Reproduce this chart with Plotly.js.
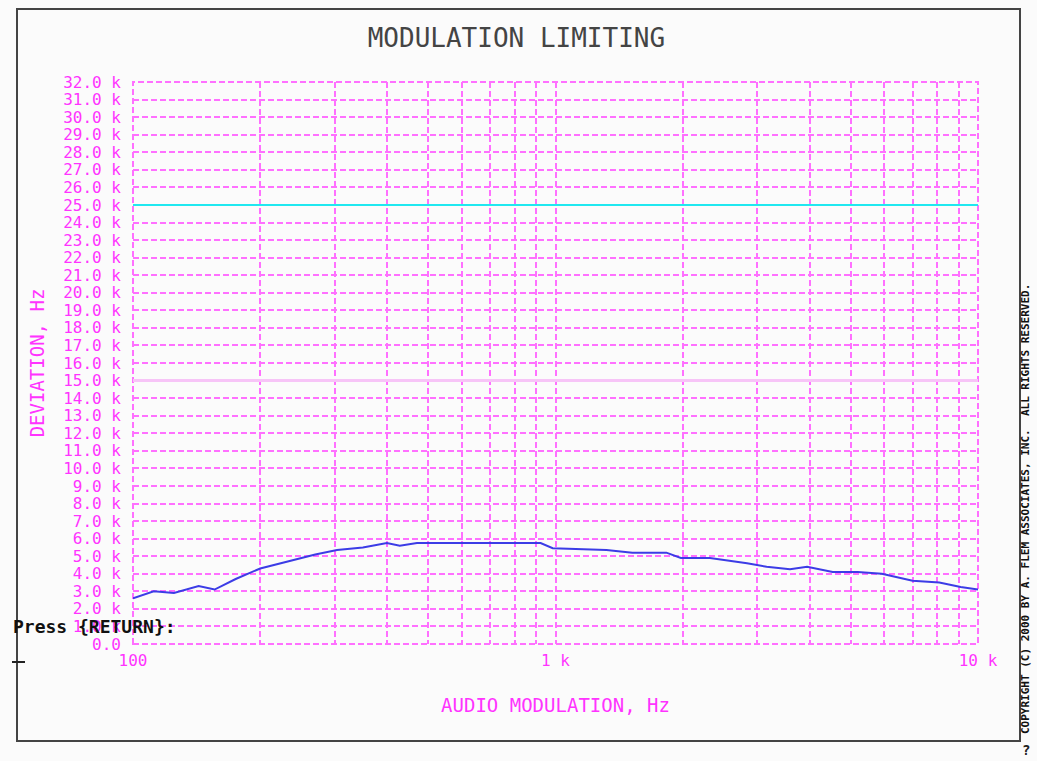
<!DOCTYPE html>
<html>
<head>
<meta charset="utf-8">
<script src="https://cdn.plot.ly/plotly-3.0.1.min.js"></script>
<style>
html,body{margin:0;padding:0;background:#fbfbfb;}
#chart{width:1037px;height:761px;}
</style>
</head>
<body>
<div id="chart"></div>
<script>
// Measured deviation curve (Hz) vs audio modulation frequency (Hz)
const freqHz = [100, 112, 125, 143, 156, 175, 200, 239, 270, 304, 350, 399, 428, 470, 505, 600, 700, 800, 922, 985, 1150, 1320, 1520, 1830, 1980, 2200, 2320, 2840, 3160, 3590, 3940, 4530, 5190, 5920, 7000, 8100, 9100, 10000];
const deviationHz = [2600, 3000, 2900, 3300, 3100, 3700, 4300, 4800, 5100, 5350, 5500, 5750, 5600, 5750, 5750, 5750, 5750, 5750, 5750, 5450, 5400, 5350, 5200, 5200, 4900, 4900, 4900, 4600, 4400, 4250, 4400, 4100, 4100, 4000, 3600, 3500, 3250, 3100];
// Reference lines
const limitFreq = [100, 10000];
const limitHz = [25000, 25000];
const midHz = [15000, 15000];
// X tick grid (log) and labels
const xTickVals = [100,200,300,400,500,600,700,800,900,1000,2000,3000,4000,5000,6000,7000,8000,9000,10000];
const xTickText = ['100','','','','','','','','','1 k','','','','','','','','','10 k'];
// Y ticks
const yTickVals = [];
const yTickText = [];
for (let k = 0; k <= 32; k++) { yTickVals.push(k*1000); yTickText.push(k === 0 ? '0.0' : k.toFixed(1) + ' k'); }

const MAG = '#ff33ff';
const GRID = '#ff70ff';
const FONT = '"DejaVu Sans Mono", "Liberation Mono", monospace';

const traces = [
  {x: limitFreq, y: midHz, mode: 'lines', line: {color: '#f7c4f7', width: 3}, hoverinfo: 'skip', showlegend: false},
  {x: limitFreq, y: limitHz, mode: 'lines', line: {color: '#20e8f0', width: 2}, hoverinfo: 'skip', showlegend: false},
  {x: freqHz, y: deviationHz, mode: 'lines', line: {color: '#3c3ce6', width: 2}, showlegend: false}
];

// pixel helpers for paper coords (plot area 133..978 x, 82..644 y)
const px = x => (x - 133) / 845;
const py = y => (644 - y) / 562;

const layout = {
  width: 1037, height: 761,
  margin: {l: 133, r: 59, t: 82, b: 117},
  paper_bgcolor: '#fbfbfb',
  plot_bgcolor: '#fbfbfb',
  font: {family: FONT, color: MAG},
  title: {text: 'MODULATION LIMITING', font: {family: FONT, size: 26, color: '#444'}, x: 0.498, xref: 'container', y: 1 - 38/761, yref: 'container', yanchor: 'middle'},
  xaxis: {
    type: 'log', range: [2, 4], tickvals: xTickVals, ticktext: xTickText,
    showgrid: true, gridcolor: GRID, griddash: '6px,3px', gridwidth: 2,
    zeroline: false, showline: false, ticks: '', ticklabelstandoff: 5,
    tickfont: {family: FONT, size: 16, color: MAG},
    title: {text: 'AUDIO MODULATION, Hz', font: {family: FONT, size: 19, color: MAG}, standoff: 29}
  },
  yaxis: {
    range: [0, 32000], tickvals: yTickVals, ticktext: yTickText,
    showgrid: true, gridcolor: GRID, griddash: '6px,3px', gridwidth: 2,
    zeroline: false, showline: false, ticks: '', ticklabelstandoff: 11,
    tickfont: {family: FONT, size: 16, color: MAG},
    title: {text: 'DEVIATION, Hz', font: {family: FONT, size: 19, color: MAG}, standoff: 13}
  },
  shapes: [
    {type: 'rect', xref: 'paper', yref: 'paper', x0: 0, x1: 1, y0: 0, y1: 1, line: {color: GRID, width: 2, dash: '6px,3px'}, fillcolor: 'rgba(0,0,0,0)', layer: 'below'},
    {type: 'rect', xref: 'paper', yref: 'paper', x0: px(17), x1: px(1020), y0: py(741), y1: py(9), line: {color: '#444', width: 2}, fillcolor: 'rgba(0,0,0,0)', layer: 'below'},
    {type: 'line', xref: 'paper', yref: 'paper', x0: px(12), x1: px(25), y0: py(662), y1: py(662), line: {color: '#222', width: 2}}
  ],
  annotations: [
    {xref: 'paper', yref: 'paper', x: px(11), y: py(626), xanchor: 'left', yanchor: 'middle', showarrow: false,
     text: '<b>Press {RETURN}:</b>', font: {family: FONT, size: 18, color: '#111'}},
    {xref: 'paper', yref: 'paper', x: px(1026), y: py(509), xanchor: 'center', yanchor: 'middle', showarrow: false, textangle: -90,
     text: '<b>COPYRIGHT (C) 2000 BY A. FLEM ASSOCIATES, INC.  ALL RIGHTS RESERVED.</b>', font: {family: FONT, size: 11, color: '#111'}},
    {xref: 'paper', yref: 'paper', x: px(1026), y: py(750), xanchor: 'center', yanchor: 'middle', showarrow: false,
     text: '<b>?</b>', font: {family: FONT, size: 14, color: '#222'}}
  ]
};

Plotly.newPlot('chart', traces, layout, {displayModeBar: false, staticPlot: true});
</script>
</body>
</html>
